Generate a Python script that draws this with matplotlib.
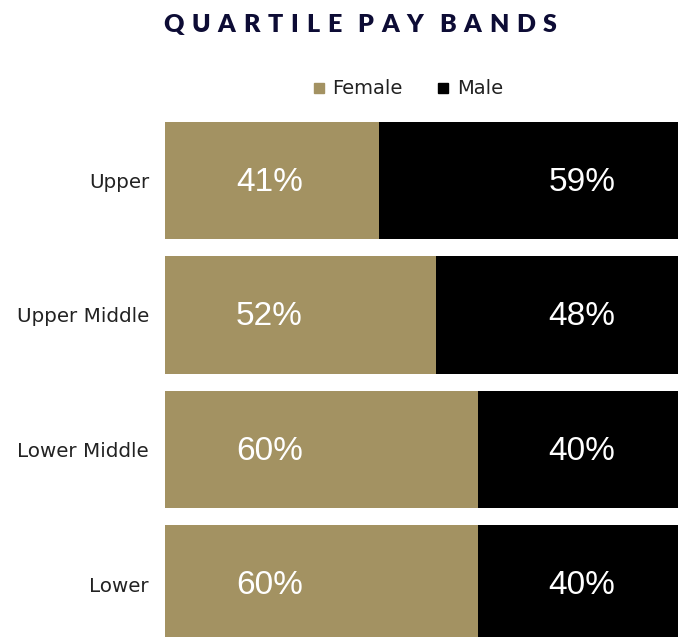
import matplotlib
matplotlib.use("Agg")
import matplotlib.pyplot as plt
from matplotlib.lines import Line2D

categories = ["Upper", "Upper Middle", "Lower Middle", "Lower"]
female = [41, 52, 60, 60]
male = [59, 48, 40, 40]
series_names = ["Female", "Male"]

TAN = "#A39262"
BLACK = "#000000"
NAVY = "#0D0C35"

W, H = 678, 637
fig = plt.figure(figsize=(W / 100, H / 100), dpi=100)
fig.patch.set_facecolor("white")

# axes spans beyond the right edge (bars are clipped as in the reference)
left_px, right_px = 165, 686
ax = fig.add_axes([left_px / W, 0, (right_px - left_px) / W, 1])
ax.set_xlim(0, 100)
c0, step = 180.5, 134.5
ax.set_ylim((H - c0) / step, -c0 / step)

ypos = list(range(len(categories)))
ax.barh(ypos, female, height=0.87, color=TAN, linewidth=0)
ax.barh(ypos, male, left=female, height=0.87, color=BLACK, linewidth=0)

for y, f, m in zip(ypos, female, male):
    ax.text(20, y + 0.012, f"{f}%", color="white", ha="center", va="center",
            fontsize=24, family="Liberation Sans")
    ax.text(80, y + 0.012, f"{m}%", color="white", ha="center", va="center",
            fontsize=24, family="Liberation Sans")

ax.set_yticks(ypos)
ax.set_yticklabels(categories, fontsize=14.3, color="#222222", family="DejaVu Sans")
ax.tick_params(axis="y", length=0, pad=11.5)
ax.set_xticks([])
for s in ax.spines.values():
    s.set_visible(False)
ax.set_facecolor("none")

# legend
handles = [Line2D([], [], marker="s", linestyle="none", markersize=7.5,
                  markerfacecolor=TAN, markeredgecolor=TAN),
           Line2D([], [], marker="s", linestyle="none", markersize=7.5,
                  markerfacecolor=BLACK, markeredgecolor=BLACK)]
fig.legend(handles, series_names, loc="center", bbox_to_anchor=(407 / W, 1 - 89 / H),
           ncol=2, frameon=False, fontsize=14, handlelength=0.8, handletextpad=0.3,
           columnspacing=1.7, labelcolor="#222222")

# letter-spaced title
title = "QUARTILE PAY BANDS"
fig.canvas.draw()
renderer = fig.canvas.get_renderer()
fs = 18
tfam = "Lato"
widths = []
tmp = []
for ch in title:
    t = fig.text(0, 0, ch if ch != " " else "I", fontsize=fs, fontweight="heavy",
                 family=tfam)
    bb = t.get_window_extent(renderer)
    widths.append(bb.width if ch != " " else 0)
    tmp.append(t)
for t in tmp:
    t.remove()
target = 394.0
n_gaps = len(title) - 1
track = (target - sum(widths)) / n_gaps
total = sum(widths) + track * n_gaps
x = 360 - total / 2
for ch, w in zip(title, widths):
    if ch != " ":
        fig.text(x / W, 1 - 25 / H, ch, fontsize=fs, fontweight="heavy",
                 family=tfam, color=NAVY, ha="left", va="center")
    x += w + track

fig.savefig("out.png", dpi=100, facecolor="white")
